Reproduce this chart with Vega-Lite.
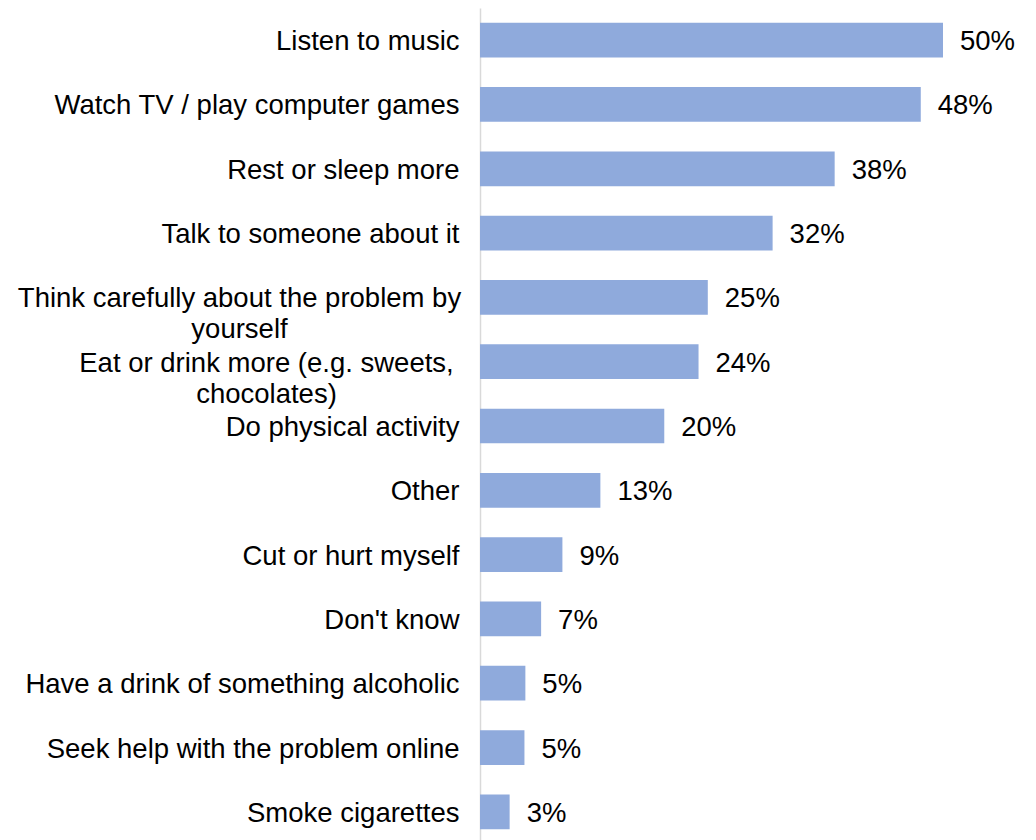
{
  "$schema": "https://vega.github.io/schema/vega-lite/v6.json",
  "autosize": {"type": "none"},
  "padding": {"left": 480, "top": 8, "right": 93, "bottom": 0},
  "width": 463,
  "height": 836,
  "background": "white",
  "config": {
    "view": {"stroke": null},
    "font": "Liberation Sans"
  },
  "data": {
    "values": [
      {"activity": "Listen to music", "pct": 50.0, "label": "50%"},
      {"activity": "Watch TV / play computer games", "pct": 47.6, "label": "48%"},
      {"activity": "Rest or sleep more", "pct": 38.3, "label": "38%"},
      {"activity": "Talk to someone about it", "pct": 31.6, "label": "32%"},
      {"activity": "Think carefully about the problem by yourself", "pct": 24.6, "label": "25%"},
      {"activity": "Eat or drink more (e.g. sweets, chocolates)", "pct": 23.6, "label": "24%"},
      {"activity": "Do physical activity", "pct": 19.9, "label": "20%"},
      {"activity": "Other", "pct": 13.0, "label": "13%"},
      {"activity": "Cut or hurt myself", "pct": 8.9, "label": "9%"},
      {"activity": "Don't know", "pct": 6.6, "label": "7%"},
      {"activity": "Have a drink of something alcoholic", "pct": 4.9, "label": "5%"},
      {"activity": "Seek help with the problem online", "pct": 4.8, "label": "5%"},
      {"activity": "Smoke cigarettes", "pct": 3.2, "label": "3%"}
    ]
  },
  "encoding": {
    "y": {
      "field": "activity",
      "type": "nominal",
      "sort": null,
      "scale": {"paddingInner": 0.46, "paddingOuter": 0.23},
      "axis": {
        "title": null,
        "ticks": false,
        "tickSize": 0,
        "domainColor": "#D9D9D9",
        "domainWidth": 1.5,
        "labelFont": "Liberation Sans",
        "labelFontSize": 27.5,
        "labelColor": "#000000",
        "labelLimit": 600,
        "labelLineHeight": 31,
        "labelOffset": 2,
        "labelPadding": {
          "condition": [
            {"test": "datum.value == 'Think carefully about the problem by yourself'", "value": 241},
            {"test": "datum.value == 'Eat or drink more (e.g. sweets, chocolates)'", "value": 214}
          ],
          "value": 21
        },
        "labelAlign": {
          "condition": {"test": "datum.value == 'Think carefully about the problem by yourself' || datum.value == 'Eat or drink more (e.g. sweets, chocolates)'", "value": "center"},
          "value": "right"
        },
        "labelExpr": "datum.value == 'Think carefully about the problem by yourself' ? ['Think carefully about the problem by', 'yourself'] : datum.value == 'Eat or drink more (e.g. sweets, chocolates)' ? ['Eat or drink more (e.g. sweets,', 'chocolates)'] : datum.label"
      }
    },
    "x": {
      "field": "pct",
      "type": "quantitative",
      "scale": {"domain": [0, 50], "nice": false},
      "axis": null
    }
  },
  "layer": [
    {"mark": {"type": "bar", "color": "#8FAADC"}},
    {
      "mark": {"type": "text", "align": "left", "baseline": "middle", "dx": 17, "dy": 2, "fontSize": 27.5, "font": "Liberation Sans", "color": "#000000"},
      "encoding": {"text": {"field": "label"}}
    }
  ]
}
